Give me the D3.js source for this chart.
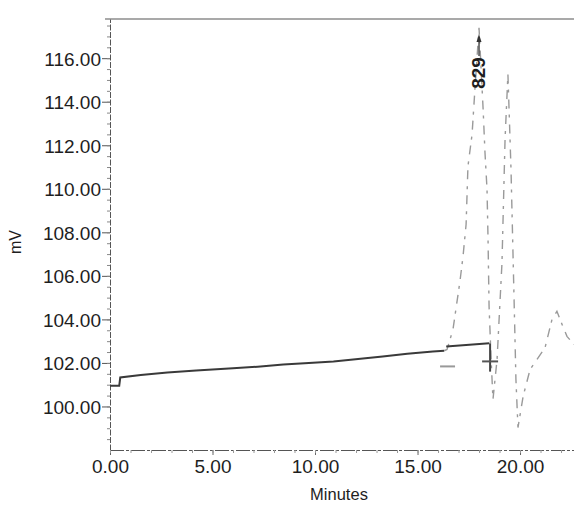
<!DOCTYPE html>
<html>
<head>
<meta charset="utf-8">
<script src="https://cdn.jsdelivr.net/npm/d3@7"></script>
<style>
  html, body { margin: 0; padding: 0; background: #fff; }
  svg { display: block; }
  text { font-family: "Liberation Sans", Arial, sans-serif; fill: #1e1e1e; }
</style>
</head>
<body>
<svg id="chart" width="574" height="506"></svg>
<script>
// Detector trace: flat rising baseline, then the eluting peaks.
const baselineMinutes = [0.0, 0.45, 0.5, 1.5, 2.8, 4.2, 6.0, 7.2, 8.45, 9.7, 10.9, 12.1, 13.3, 14.5, 15.75, 16.3];
const baselineMv      = [100.95, 100.95, 101.33, 101.45, 101.56, 101.65, 101.75, 101.83, 101.93, 102.0, 102.07, 102.18, 102.3, 102.42, 102.53, 102.56];

const peakMinutes = [16.3, 16.44, 16.73, 17.07, 17.22, 17.37, 17.46, 17.66, 17.8, 18.0, 18.2, 18.29, 18.39, 18.44, 18.49, 18.59, 18.68,
                     18.88, 19.12, 19.27, 19.41, 19.56, 19.71, 19.8, 19.9, 20.15, 20.49, 21.22, 21.56, 21.8, 22.05, 22.29, 22.63];
const peakMv      = [102.56, 102.62, 103.54, 105.75, 106.9, 108.37, 111.03, 112.5, 114.57, 117.4, 113.66, 111.68, 109.98, 107.68, 104.6, 102.16, 100.32,
                     102.16, 106.6, 112.28, 115.26, 110.9, 104.9, 101.24, 99.03, 100.46, 101.7, 102.7, 104.0, 104.37, 103.77, 103.22, 102.85];

// Integration baseline under the main peak and its event marks.
const integMinutes = [16.4, 18.5];
const integMv      = [102.75, 102.9];
const dropMinute   = 18.54;
const dropMv       = [102.9, 101.6];
const eventStart   = [16.1, 18.15];
const eventEnd     = [16.83, 18.93];
const eventMv      = [101.84, 102.07];

// Peak annotation.
const labelMinutes = [18.0];
const labelTexts   = ["829"];

// Axis ticks.
const yTicks = [100, 102, 104, 106, 108, 110, 112, 114, 116];
const xTicks = [0, 5, 10, 15, 20];
const yMinorTicks = d3.range(98.5, 117.6, 0.5);
const xMinorTicks = d3.range(0, 23, 1);

const svg = d3.select("#chart");
const plotLeft = 110, plotRight = 568, plotTop = 19, plotBottom = 450;

const x = d3.scaleLinear().domain([0, 22.34]).range([plotLeft, plotRight]);
const y = d3.scaleLinear().domain([98, 117.8]).range([plotBottom, plotTop]);

const fmt = d3.format(".2f");

// Top frame line
svg.append("line")
  .attr("x1", plotLeft - 5).attr("x2", 574)
  .attr("y1", plotTop).attr("y2", plotTop)
  .attr("stroke", "#555").attr("stroke-width", 1.2);

// Y axis
const yAxis = svg.append("g").attr("transform", `translate(${plotLeft},0)`)
  .call(d3.axisLeft(y).tickValues(yTicks).tickFormat(fmt).tickSize(8).tickSizeOuter(0));
yAxis.select(".domain").attr("stroke", "#555").attr("stroke-dasharray", "6,1.5");
yAxis.selectAll(".tick line").attr("stroke", "#555");
yAxis.selectAll(".tick text").attr("font-size", 19).attr("x", -9).attr("dy", "0.36em")
  .attr("fill", "#1e1e1e").attr("font-family", "Liberation Sans, Arial, sans-serif");
svg.append("g").attr("transform", `translate(${plotLeft},0)`)
  .call(d3.axisLeft(y).tickValues(yMinorTicks).tickFormat("").tickSize(3))
  .call(g => g.select(".domain").remove())
  .selectAll("line").attr("stroke", "#888");

// X axis
const xAxis = svg.append("g").attr("transform", `translate(0,${plotBottom})`)
  .call(d3.axisBottom(x).tickValues(xTicks).tickFormat(fmt).tickSize(5).tickSizeOuter(0));
xAxis.select(".domain").attr("stroke", "#555").attr("d", `M${plotLeft},0.5H574`).attr("stroke-dasharray", "14,2,3,2");
xAxis.selectAll(".tick line").attr("stroke", "#666");
xAxis.selectAll(".tick text").attr("font-size", 19).attr("y", 10)
  .attr("fill", "#1e1e1e").attr("font-family", "Liberation Sans, Arial, sans-serif");
svg.append("g").attr("transform", `translate(0,${plotBottom})`)
  .call(d3.axisBottom(x).tickValues(xMinorTicks).tickFormat("").tickSize(3))
  .call(g => g.select(".domain").remove())
  .selectAll("line").attr("stroke", "#999");

// Axis titles
svg.append("text")
  .attr("x", (plotLeft + plotRight) / 2).attr("y", 500)
  .attr("text-anchor", "middle").attr("font-size", 16.5)
  .text("Minutes");
svg.append("text")
  .attr("transform", `translate(21,242) rotate(-90)`)
  .attr("text-anchor", "middle").attr("font-size", 16)
  .text("mV");

const line = d3.line().x(d => x(d[0])).y(d => y(d[1]));

// Baseline trace
svg.append("path")
  .datum(d3.zip(baselineMinutes, baselineMv))
  .attr("d", line)
  .attr("fill", "none").attr("stroke", "#3a3a3a").attr("stroke-width", 2);

// Peak trace (faint, broken)
svg.append("path")
  .datum(d3.zip(peakMinutes, peakMv))
  .attr("d", line)
  .attr("fill", "none").attr("stroke", "#9a9a9a").attr("stroke-width", 1.4)
  .attr("stroke-dasharray", "9,6,3,7");

// Integration baseline and drop line
svg.append("path")
  .datum(d3.zip(integMinutes, integMv))
  .attr("d", line)
  .attr("fill", "none").attr("stroke", "#3a3a3a").attr("stroke-width", 2);
svg.append("line")
  .attr("x1", x(dropMinute)).attr("x2", x(dropMinute))
  .attr("y1", y(dropMv[0])).attr("y2", y(dropMv[1]))
  .attr("stroke", "#444").attr("stroke-width", 2);
svg.selectAll(".event").data(d3.range(eventStart.length)).join("line")
  .attr("class", "event")
  .attr("x1", i => x(eventStart[i])).attr("x2", i => x(eventEnd[i]))
  .attr("y1", i => y(eventMv[i])).attr("y2", i => y(eventMv[i]))
  .attr("stroke", (d, i) => i === 0 ? "#999" : "#555").attr("stroke-width", 2);

// Peak label with leader arrow
labelMinutes.forEach((m, i) => {
  const px = x(m) - 1;
  svg.append("line")
    .attr("x1", px + 1).attr("x2", px + 1)
    .attr("y1", 38).attr("y2", 56)
    .attr("stroke", "#333").attr("stroke-width", 1.3);
  svg.append("path")
    .attr("d", `M${px + 1},34 L${px - 1.5},42 L${px + 3.5},42 Z`)
    .attr("fill", "#333");
  svg.append("text")
    .attr("transform", `translate(${px + 7},73) rotate(-90)`)
    .attr("text-anchor", "middle").attr("font-size", 19).attr("font-weight", "bold")
    .text(labelTexts[i]);
});
</script>
</body>
</html>
